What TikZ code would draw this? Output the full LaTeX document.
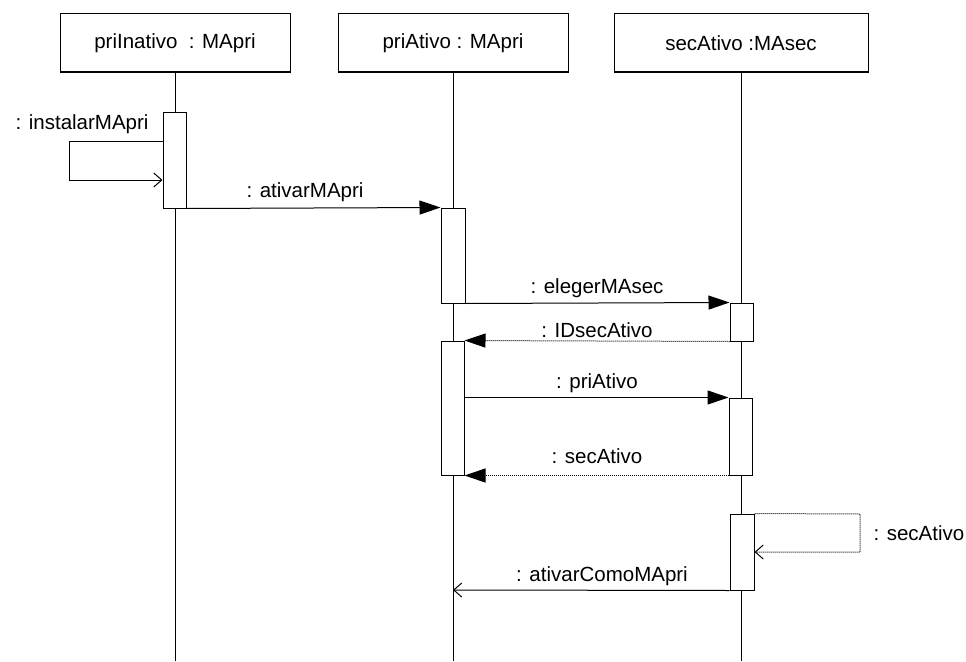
\documentclass[tikz,border=0pt]{standalone}
\usepackage{fontspec}
\setmainfont{Liberation Sans}
\usetikzlibrary{arrows.meta}
\begin{document}
\begin{tikzpicture}[x=1pt,y=-1pt,
  font=\fontsize{20.5}{24}\selectfont,
  every path/.style={line width=1pt},
  head/.style={draw, minimum width=230pt, minimum height=58pt, inner sep=0pt},
  act/.style={draw, fill=white, minimum width=23pt, inner sep=0pt},
  lifeline/.style={draw},
  call/.style={-{Triangle[length=21pt,width=14pt]}},
  ret/.style={dash pattern=on 1pt off 1pt, -{Triangle[length=21pt,width=14pt]}},
  openmsg/.style={-{Straight Barb[length=8pt,width=14pt,line width=1pt]}},
  openret/.style={dash pattern=on 1pt off 1pt, -{Straight Barb[length=8pt,width=14pt,line width=1pt]}},
  lbl/.style={anchor=base, inner sep=0pt}
]
\useasboundingbox (0,0) rectangle (966,661);
% heads
\node[head] (h1) at (175,43) {priInativo\ \ : MApri};
\node[head] (h2) at (453,43) {priAtivo : MApri};
\node[head, minimum width=254pt] (h3) at (741,43) {secAtivo :MAsec};
% lifelines
\coordinate (e1) at (175,661);
\coordinate (e2) at (453,661);
\coordinate (e3) at (741,661);
\draw (h1.south) -- (e1);
\draw (h2.south) -- (e2);
\draw (h3.south) -- (e3);
% activations
\node[act, minimum height=96pt] (a1) at (174.5,160) {};
\node[act, minimum width=24pt, minimum height=95pt] (a2) at (453,255.5) {};
\node[act, minimum height=38pt] (a3) at (741.5,322) {};
\node[act, minimum height=134pt] (a4) at (452.5,408) {};
\node[act, minimum height=77pt] (a5) at (740.5,436.5) {};
\node[act, minimum width=24pt, minimum height=76pt] (a6) at (742,552) {};
% self message instalarMApri
\coordinate (s1a) at (69,141);
\coordinate (s1b) at (69,180);
\draw[openmsg] (a1.west |- s1a) -- (s1a) -- (s1b) -- (a1.west |- s1b);
\node[anchor=base east, inner sep=0pt] (l0) at (149,129) {: instalarMApri};
% ativarMApri
\draw[call] (a1.south east) -- (a2.north west);
\node[lbl] (l1) at (305,197) {: ativarMApri};
% elegerMAsec
\draw[call] (a2.south east) -- (a3.north west);
\node[lbl] (l2) at (597,293) {: elegerMAsec};
% IDsecAtivo
\draw[ret] (a3.south west) -- (a4.north east);
\node[lbl] (l3) at (597,337) {: IDsecAtivo};
% priAtivo
\draw[call] (a4.east |- a5.north) -- (a5.north west);
\node[lbl] (l4) at (597,388) {: priAtivo};
% secAtivo return
\draw[ret] (a5.south west) -- (a4.south east);
\node[lbl] (l5) at (597,463) {: secAtivo};
% self message secAtivo
\coordinate (s2a) at (860,514);
\coordinate (s2b) at (860,552);
\draw[openret] (a6.north east) -- (s2a) -- (s2b) -- (a6.east |- s2b);
\node[anchor=base west, inner sep=0pt] (l6) at (873,540) {: secAtivo};
% ativarComoMApri
\coordinate (t2) at (453,590);
\draw[openmsg] (a6.south west) -- (t2);
\node[lbl] (l7) at (602,581) {: ativarComoMApri};
\end{tikzpicture}
\end{document}
